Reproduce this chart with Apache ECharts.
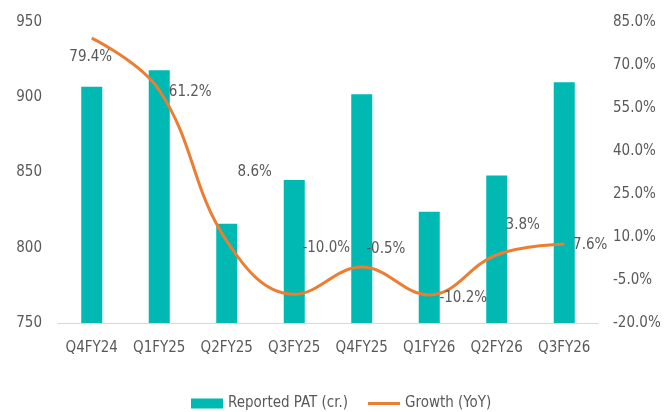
<!DOCTYPE html>
<html>
<head>
<meta charset="utf-8">
<script src="https://cdn.jsdelivr.net/npm/echarts@6/dist/echarts.min.js"></script>
<style>
  html, body { margin: 0; padding: 0; background: #fff; }
  #chart { width: 670px; height: 412px; }
</style>
</head>
<body>
<div id="chart"></div>
<script>
var quarters = ['Q4FY24', 'Q1FY25', 'Q2FY25', 'Q3FY25', 'Q4FY25', 'Q1FY26', 'Q2FY26', 'Q3FY26'];
var patValues = [907, 918, 816, 845, 902, 824, 848, 910];
var growthValues = [79.4, 61.2, 8.6, -10.0, -0.5, -10.2, 3.8, 7.6];

// label offsets (dx, dy) per point
var labelShift = [[-1, 19], [31, 2], [28, -69], [32, -46], [24, -18], [34, 3], [26, -30], [26, 1]];

var font = "'DejaVu Sans Condensed', 'Liberation Sans', Arial, sans-serif";
var grey = '#595959';

var myChart = echarts.init(document.getElementById('chart'));

var option = {
    animation: false,
    textStyle: { fontFamily: font },
    grid: { left: 58, right: 72, top: 22, bottom: 89 },
    legend: {
        top: 391,
        left: 186,
        itemGap: 20,
        itemWidth: 32,
        itemHeight: 10,
        textStyle: { color: grey, fontSize: 15, fontFamily: font },
        data: [
            { name: 'Reported PAT (cr.)', icon: 'rect' },
            { name: 'Growth (YoY)', icon: 'path://M0,0 L32,0 L32,3 L0,3 Z', itemStyle: { color: '#ED7D31' } }
        ]
    },
    xAxis: {
        type: 'category',
        data: quarters,
        axisLine: { onZero: false, lineStyle: { color: '#d9d9d9', width: 1 } },
        axisTick: { show: false },
        axisLabel: { color: grey, fontSize: 15, margin: 18, interval: 0, fontFamily: font }
    },
    yAxis: [{
        type: 'value',
        min: 750,
        max: 950,
        interval: 50,
        splitLine: { show: false },
        axisLabel: { color: grey, fontSize: 15, margin: 16, fontFamily: font }
    }, {
        type: 'value',
        min: -20,
        max: 85,
        interval: 15,
        splitLine: { show: false },
        axisLabel: {
            color: grey, fontSize: 15, margin: 15, fontFamily: font,
            formatter: function (v) { return v.toFixed(1) + '%'; }
        }
    }],
    series: [{
        name: 'Reported PAT (cr.)',
        type: 'bar',
        barWidth: 21,
        data: patValues,
        itemStyle: { color: '#00B9B2' }
    }, {
        name: 'Growth (YoY)',
        type: 'line',
        yAxisIndex: 1,
        smooth: 0.4,
        showSymbol: true,
        symbol: 'circle',
        symbolSize: 0,
        lineStyle: { color: '#ED7D31', width: 3 },
        itemStyle: { color: '#ED7D31' },
        data: growthValues.map(function (v, i) {
            return {
                value: v,
                label: {
                    show: true,
                    position: 'inside',
                    offset: labelShift[i],
                    formatter: v.toFixed(1) + '%',
                    color: grey,
                    fontSize: 15,
                    fontFamily: font
                }
            };
        })
    }]
};

myChart.setOption(option);
</script>
</body>
</html>
